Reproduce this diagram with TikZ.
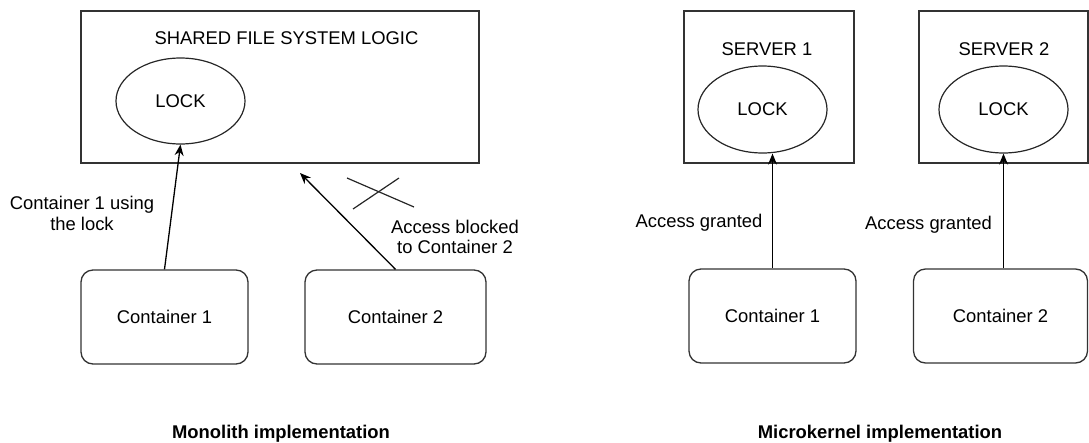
\documentclass[tikz,border=0pt]{standalone}
\usepackage{fontspec}
\setmainfont{Liberation Sans}
\usetikzlibrary{shapes.geometric,arrows.meta}
\newcommand\dfont{\fontsize{18.4}{21}\selectfont}
\begin{document}
\begin{tikzpicture}[x=1pt,y=-1pt,
  box/.style={draw=black!80, line width=1.3pt, rectangle, inner sep=0pt},
  cont/.style={box, rounded corners=12pt, minimum height=94pt, font=\dfont},
  lock/.style={draw=black!85, line width=1.2pt, ellipse, minimum width=129pt, minimum height=86pt, inner sep=0pt, font=\dfont},
  lbl/.style={font=\dfont, align=center, inner sep=0pt},
  ttl/.style={font=\dfont\bfseries, inner sep=0pt, anchor=base},
  arr/.style={line width=1.3pt, -{Stealth[length=11pt,width=9pt]}},
  cross/.style={line width=1.2pt, black!85}
]
\useasboundingbox (0,0) rectangle (1089,442);

% ---------- Monolith ----------
\node[box, minimum width=398pt, minimum height=152pt] (shared) at (280,87) {};
\node[lbl, anchor=base] (sharedt) at (286.5,44.6) {SHARED FILE SYSTEM LOGIC};
\node[lock] (lockA) at (180.5,101) {LOCK};
\node[cont, minimum width=167pt] (c1) at (164.5,317) {Container 1};
\node[cont, minimum width=181pt] (c2) at (395.5,317) {Container 2};
\coordinate (blk) at (300,173);
\draw[arr] (c1.north) -- (lockA.south);
\draw[arr] (c2.north) -- (blk);
\coordinate (xa1) at (347,178);
\coordinate (xa2) at (414,207);
\coordinate (xb1) at (399,178);
\coordinate (xb2) at (353,209);
\draw[cross] (xa1) -- (xa2);
\draw[cross] (xb1) -- (xb2);
\node[lbl] (l1) at (82,213.5) {Container 1 using\\the lock};
\node[lbl, font=\fontsize{18.4}{20.5}\selectfont] (l2) at (455,237) {Access blocked\\to Container 2};
\node[ttl] (mono) at (281,438.6) {Monolith implementation};

% ---------- Microkernel ----------
\node[box, minimum width=170pt, minimum height=152pt] (s1) at (769,87) {};
\node[lbl, anchor=base] (s1t) at (767,55.6) {SERVER 1};
\node[lock, minimum height=87pt] (lockB) at (762.5,109.5) {LOCK};
\node[cont, minimum width=167pt] (c3) at (772.5,316) {Container 1};
\draw[arr] (c3.north) -- (c3.north |- lockB.south);
\node[lbl, anchor=base] (g1) at (699,227.6) {Access granted};

\node[box, minimum width=169pt, minimum height=152pt] (s2) at (1003.5,87) {};
\node[lbl, anchor=base] (s2t) at (1004,55.6) {SERVER 2};
\node[lock, minimum height=87pt] (lockC) at (1003.5,109.5) {LOCK};
\node[cont, minimum width=174pt] (c4) at (1000.5,316) {Container 2};
\draw[arr] (c4.north -| lockC.south) -- (lockC.south);
\node[lbl, anchor=base] (g2) at (928.5,229.6) {Access granted};
\node[ttl] (micro) at (880,438.6) {Microkernel implementation};
\end{tikzpicture}
\end{document}
